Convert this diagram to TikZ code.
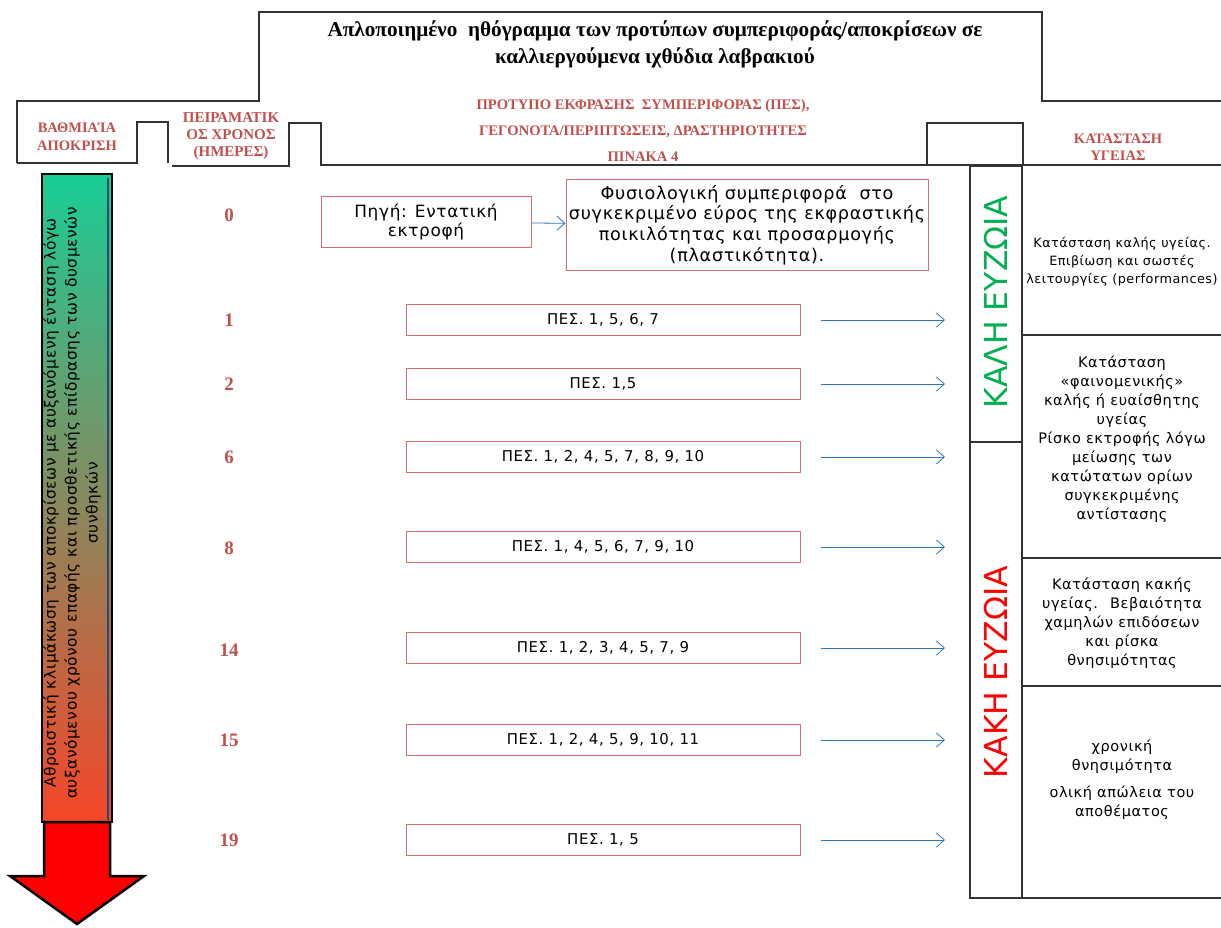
\documentclass[tikz,border=0pt]{standalone}
\usepackage{fontspec}
\setmainfont{Liberation Serif}
\setsansfont{DejaVu Sans}
\newfontfamily\spsans[LetterSpace=4]{DejaVu Sans}
\usetikzlibrary{arrows.meta}

\definecolor{hdrred}{RGB}{192,80,77}
\definecolor{boxred}{RGB}{208,112,112}
\definecolor{flowblue}{RGB}{46,117,182}
\definecolor{goodgreen}{RGB}{0,176,80}
\definecolor{shaftblue}{RGB}{31,78,121}

\begin{document}
\begin{tikzpicture}[x=1pt,y=-1pt,
    frame/.style={line width=1.2pt, black!80},
    hdr/.style={text=hdrred, font=\bfseries\fontsize{14.5}{17}\selectfont, align=center},
    day/.style={text=hdrred, font=\bfseries\fontsize{19}{19}\selectfont},
    pesbox/.style={draw=boxred, line width=1pt, minimum width=394pt, minimum height=31pt,
        inner sep=0pt, font=\spsans\fontsize{14.9}{16}\selectfont},
    srcbox/.style={draw=boxred, line width=1pt, inner sep=0pt, align=center},
    state/.style={align=center, font=\spsans\fontsize{14.5}{19}\selectfont},
    flow/.style={draw=flowblue, line width=0.8pt, -{Straight Barb[length=8pt,width=14pt]}},
    wellness/.style={rotate=90, font=\sffamily\fontsize{31.5}{32}\selectfont}]
    \useasboundingbox (0,0) rectangle (1221,928);

    % header frame
    \draw[frame] (17,163) -- (17,101) -- (259,101) -- (259,12) -- (1042,12) -- (1042,101) -- (1221,101);
    \draw[frame] (17,163) -- (137,163) -- (137,122) -- (168,122) -- (168,163);
    \draw[frame] (172,166) -- (289,166) -- (289,123) -- (321,123) -- (321,165) -- (1221,165);
    \draw[frame] (927,165) -- (927,123) -- (1023,123) -- (1023,166);

    % health columns
    \draw[frame] (970,166) rectangle (1022,898);
    \draw[frame] (970,442) -- (1022,442);
    \draw[frame] (1022,898) -- (1221,898);
    \draw[frame] (1022,335) -- (1221,335);
    \draw[frame] (1022,558) -- (1221,558);
    \draw[frame] (1022,686) -- (1221,686);

    % header texts
    \node[font=\bfseries\fontsize{21.2}{27}\selectfont, align=center] (title) at (655,44)
        {Απλοποιημένο ~ηθόγραμμα των προτύπων συμπεριφοράς/αποκρίσεων σε\\ καλλιεργούμενα ιχθύδια λαβρακιού};
    \node[hdr, font=\bfseries\fontsize{14.6}{26}\selectfont] (pattern) at (643,130)
        {ΠΡΟΤΥΠΟ ΕΚΦΡΑΣΗΣ ~ΣΥΜΠΕΡΙΦΟΡΑΣ (ΠΕΣ),\\ ΓΕΓΟΝΟΤΑ/ΠΕΡΙΠΤΩΣΕΙΣ, ΔΡΑΣΤΗΡΙΟΤΗΤΕΣ\\ ΠΙΝΑΚΑ 4};
    \node[hdr, font=\bfseries\fontsize{14.5}{18}\selectfont] (grade) at (77,137) {ΒΑΘΜΙΑΊΑ\\ ΑΠΟΚΡΙΣΗ};
    \node[hdr, font=\bfseries\fontsize{15}{17}\selectfont] (days) at (231,136) {ΠΕΙΡΑΜΑΤΙΚ\\ ΟΣ ΧΡΟΝΟΣ\\ (ΗΜΕΡΕΣ)};
    \node[hdr] (health) at (1118,147) {ΚΑΤΑΣΤΑΣΗ\\ ΥΓΕΙΑΣ};

    % escalation arrow
    \shade[top color={rgb,255:red,25;green,205;blue,150}, middle color={rgb,255:red,170;green,168;blue,110},
        bottom color={rgb,255:red,245;green,70;blue,40}] (42,174) rectangle (112,822);
    \draw[shaftblue, line width=2pt] (108,178) -- (108,820);
    \draw[line width=2.5pt] (42,174) rectangle (112,822);
    \filldraw[fill=red, line width=2.5pt, line join=miter] (44,822) -- (44,876) -- (10,876) -- (77,924)
        -- (144,876) -- (110,876) -- (110,822) -- cycle;
    \node[rotate=90, align=center, font=\spsans\fontsize{15.4}{21}\selectfont] (trend) at (72,503)
        {Αθροιστική κλιμάκωση των αποκρίσεων με αυξανόμενη ένταση λόγω\\
         αυξανόμενου χρόνου επαφής και προσθετικής επίδρασης των δυσμενών\\ συνθηκών};

    % days
    \node[day] (d0) at (229,215) {0};
    \node[day] (d1) at (229,320) {1};
    \node[day] (d2) at (229,384) {2};
    \node[day] (d6) at (229,457) {6};
    \node[day] (d8) at (229,548) {8};
    \node[day] (d14) at (229,650) {14};
    \node[day] (d15) at (229,740) {15};
    \node[day] (d19) at (229,840) {19};

    % source and normal behaviour
    \node[srcbox, minimum width=210pt, minimum height=51pt, font=\spsans\fontsize{16.9}{19}\selectfont]
        (src) at (426,222) {Πηγή: Εντατική\\ εκτροφή};
    \node[srcbox, minimum width=362pt, minimum height=90pt, font=\spsans\fontsize{17.6}{20.7}\selectfont]
        (normal) at (747,225)
        {Φυσιολογική συμπεριφορά ~στο\\ συγκεκριμένο εύρος της εκφραστικής\\ ποικιλότητας και προσαρμογής\\ (πλαστικότητα).};
    \draw[flow] (src) -- (normal);

    % behaviour patterns
    \node[pesbox] (p1) at (603,320) {ΠΕΣ. 1, 5, 6, 7};
    \node[pesbox] (p2) at (603,384) {ΠΕΣ. 1,5};
    \node[pesbox] (p6) at (603,457) {ΠΕΣ. 1, 2, 4, 5, 7, 8, 9, 10};
    \node[pesbox] (p8) at (603,547) {ΠΕΣ. 1, 4, 5, 6, 7, 9, 10};
    \node[pesbox] (p14) at (603,648) {ΠΕΣ. 1, 2, 3, 4, 5, 7, 9};
    \node[pesbox] (p15) at (603,740) {ΠΕΣ. 1, 2, 4, 5, 9, 10, 11};
    \node[pesbox] (p19) at (603,840) {ΠΕΣ. 1, 5};

    \coordinate (e1) at (945,320);
    \coordinate (e2) at (945,384);
    \coordinate (e6) at (945,457);
    \coordinate (e8) at (945,547);
    \coordinate (e14) at (945,648);
    \coordinate (e15) at (945,740);
    \coordinate (e19) at (945,840);
    \draw[flow] ([xshift=20pt]p1.east) -- (e1);
    \draw[flow] ([xshift=20pt]p2.east) -- (e2);
    \draw[flow] ([xshift=20pt]p6.east) -- (e6);
    \draw[flow] ([xshift=20pt]p8.east) -- (e8);
    \draw[flow] ([xshift=20pt]p14.east) -- (e14);
    \draw[flow] ([xshift=20pt]p15.east) -- (e15);
    \draw[flow] ([xshift=20pt]p19.east) -- (e19);

    % wellness labels
    \node[wellness, text=goodgreen] (good) at (996,302) {ΚΑΛΗ ΕΥΖΩΙΑ};
    \node[wellness, text=red] (bad) at (996,672) {ΚΑΚΗ ΕΥΖΩΙΑ};

    % health states
    \node[state, font=\spsans\fontsize{12.8}{18}\selectfont] (s1) at (1122,262)
        {Κατάσταση καλής υγείας.\\ Επιβίωση και σωστές\\ λειτουργίες (performances)};
    \node[state] (s2) at (1122,439)
        {Κατάσταση\\ «φαινομενικής»\\ καλής ή ευαίσθητης\\ υγείας\\ Ρίσκο εκτροφής λόγω\\ μείωσης των\\
         κατώτατων ορίων\\ συγκεκριμένης\\ αντίστασης};
    \node[state] (s3) at (1122,623)
        {Κατάσταση κακής\\ υγείας. ~Βεβαιότητα\\ χαμηλών επιδόσεων\\ και ρίσκα\\ θνησιμότητας};
    \node[state] (s4) at (1122,780)
        {χρονική\\ θνησιμότητα\\[8pt] ολική απώλεια του\\ αποθέματος};
\end{tikzpicture}
\end{document}
